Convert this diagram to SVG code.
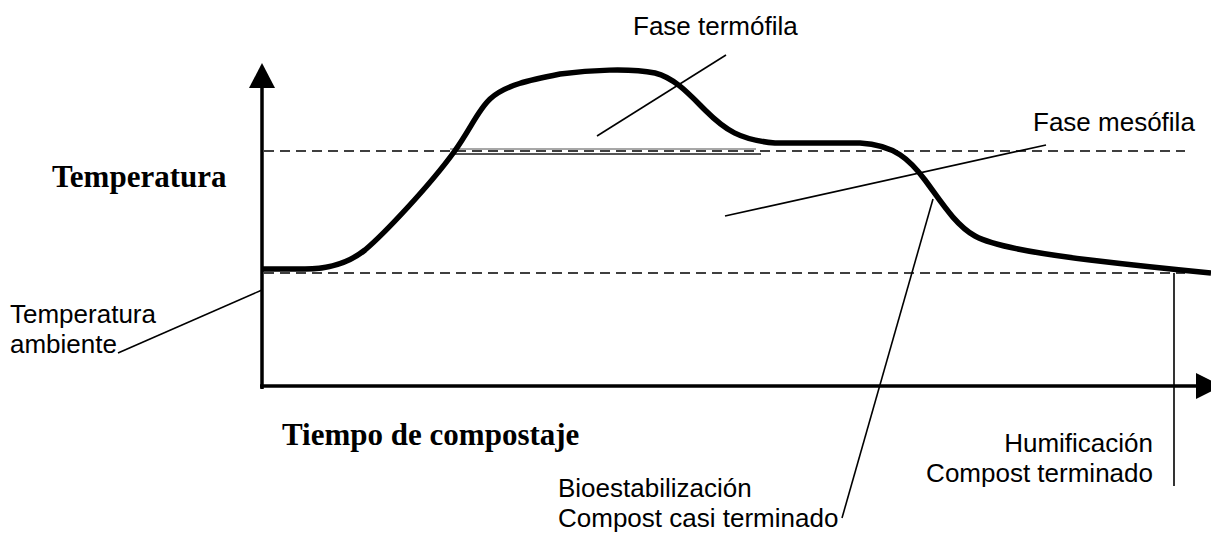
<svg xmlns="http://www.w3.org/2000/svg" width="1211" height="533" viewBox="0 0 1211 533">
<style>
.lbl{font-family:"Liberation Sans",Arial,sans-serif;font-size:26px;fill:#000}
.ttl{font-family:"Liberation Serif","Times New Roman",serif;font-size:31px;font-weight:bold;fill:#000}
.dash{stroke:#000;stroke-width:1.5;stroke-dasharray:10,6;fill:none}
.lead{stroke:#000;stroke-width:1.6;fill:none}
.axis{stroke:#000;stroke-width:3.5;fill:none}
</style>
<rect width="1211" height="533" fill="#fff"/>
<g id="axes">
<line class="axis" x1="262" y1="389" x2="262" y2="85"/>
<polygon points="262,63 249,88 275,88" fill="#000"/>
<line class="axis" x1="260" y1="386" x2="1198" y2="386"/>
<polygon points="1222,386 1196,373 1196,399" fill="#000"/>
</g>
<g id="reference-lines">
<line class="dash" x1="264" y1="151" x2="1185" y2="151"/>
<line class="dash" x1="264" y1="273" x2="1185" y2="273"/>
<line x1="450" y1="149" x2="756" y2="149" stroke="#8a8a8a" stroke-width="1.5"/>
<line x1="455" y1="154" x2="761" y2="154" stroke="#555" stroke-width="1.8"/>
</g>
<g id="curve">
<path d="M262,269 L305,269 C330,269 350,262 365,250 C385,233 430,185 454,152 C470,130 478,110 490,99 C505,85 530,80 560,74 C590,70 630,68 655,73 C675,78 690,95 705,110 C725,130 740,140 775,143 L860,143 C895,145 910,160 925,180 C940,200 955,225 975,236 C995,247 1040,254 1090,260 C1140,266 1180,270 1211,273" fill="none" stroke="#000" stroke-width="5.5" stroke-linejoin="round"/>
</g>
<g id="connectors">
<line class="lead" x1="597" y1="136" x2="726" y2="55"/>
<line class="lead" x1="725" y1="216" x2="1046" y2="145"/>
<line class="lead" x1="933" y1="199" x2="842" y2="518"/>
<line class="lead" x1="1174" y1="273" x2="1174" y2="486"/>
<line class="lead" x1="262" y1="290" x2="118" y2="353"/>
</g>
<g id="label-termofila"><text class="lbl" x="633" y="35">Fase termófila</text></g>
<g id="label-mesofila"><text class="lbl" x="1033" y="131">Fase mesófila</text></g>
<g id="label-temperatura"><text class="ttl" x="52" y="187">Temperatura</text></g>
<g id="label-ambiente"><text class="lbl" x="10" y="323">Temperatura</text><text class="lbl" x="10" y="353">ambiente</text></g>
<g id="label-tiempo"><text class="ttl" x="282" y="445">Tiempo de compostaje</text></g>
<g id="label-humificacion"><text class="lbl" x="1153" y="452" text-anchor="end">Humificación</text><text class="lbl" x="1153" y="482" text-anchor="end">Compost terminado</text></g>
<g id="label-bioestabilizacion"><text class="lbl" x="558" y="497">Bioestabilización</text><text class="lbl" x="558" y="527">Compost casi terminado</text></g>
</svg>
